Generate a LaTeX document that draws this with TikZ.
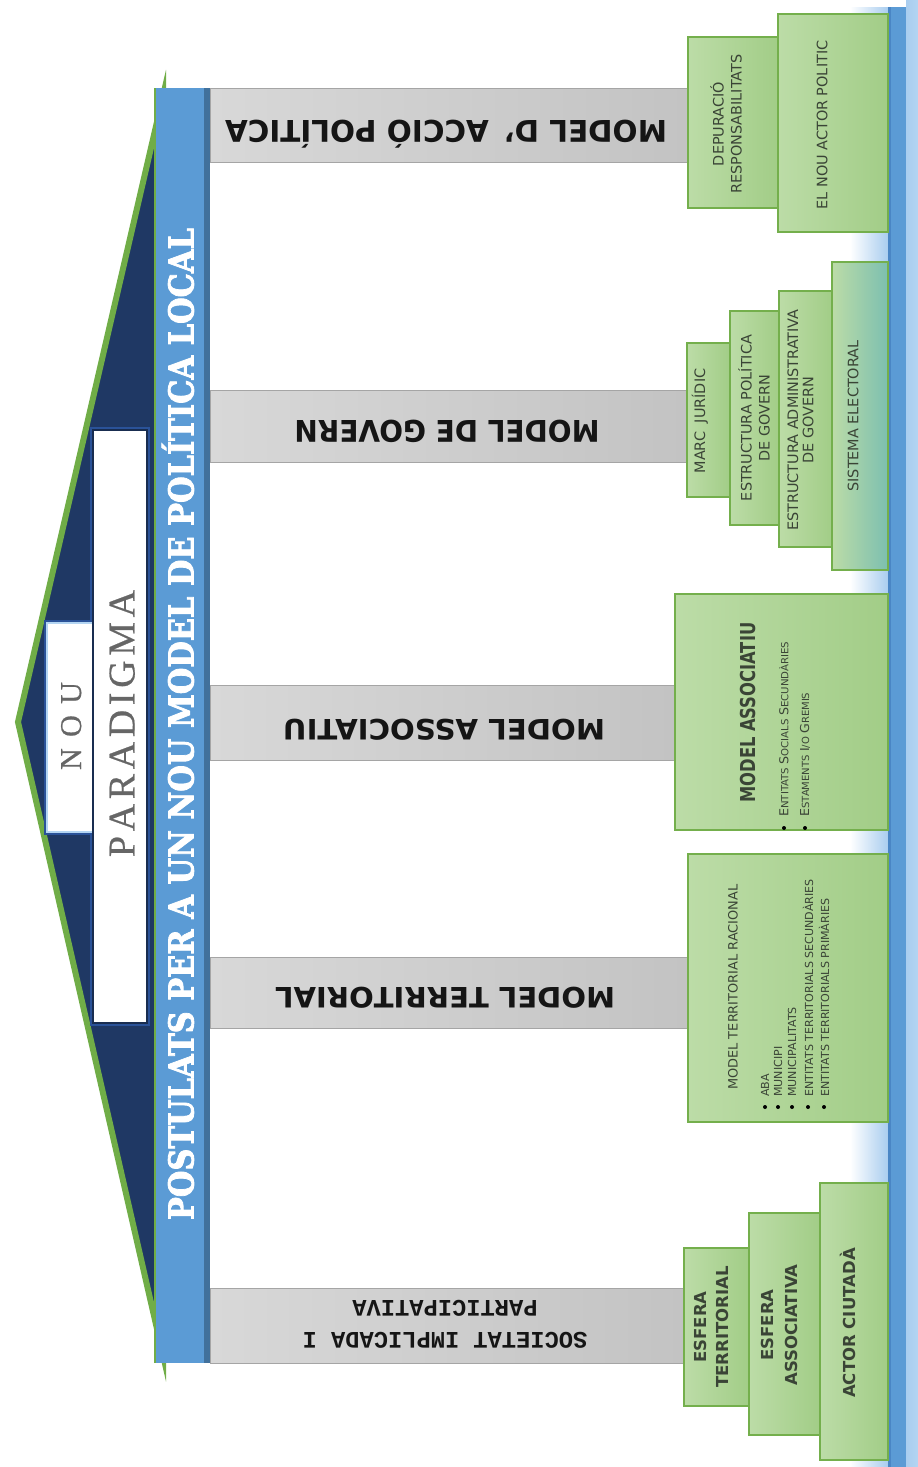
\documentclass[tikz,border=0pt]{standalone}
\usepackage{fontspec}
\usepackage{graphicx}
\setmainfont{DejaVu Sans}
\newfontfamily\slabfont{DejaVu Serif}[UprightFont={* Bold}, UprightFeatures={FakeBold=2.5}]
\newfontfamily\engravedfont{Liberation Serif}[FakeBold=0.6]
\newfontfamily\typefont{Liberation Mono}
\newfontfamily\narrowfont{DejaVu Sans Condensed}

% one drawing unit = 0.02cm
\newdimen\pxd \pxd=0.02cm
\newcommand\fitw[2]{\resizebox{#1\pxd}{\height}{#2}}
\newcommand\spreadto[2]{\makebox[#1\pxd][s]{#2}}
\newcommand\fsc[2]{{\fontsize{7}{8}\selectfont #1}#2}

\definecolor{navy}{HTML}{1F3864}
\definecolor{navyglow}{HTML}{2A5298}
\definecolor{roofgreen}{HTML}{70AD47}
\definecolor{titleblue}{HTML}{5B9BD5}
\definecolor{titleedge}{HTML}{41719C}
\definecolor{pillarL}{HTML}{D8D8D8}
\definecolor{pillarR}{HTML}{C3C3C3}
\definecolor{pillarline}{HTML}{A5A5A5}
\definecolor{pillartext}{HTML}{151515}
\definecolor{boxL}{HTML}{BCDCA7}
\definecolor{boxR}{HTML}{A2CD87}
\definecolor{boxline}{HTML}{74AF4C}
\definecolor{boxtext}{HTML}{3A4436}
\definecolor{glowblue}{HTML}{A9CDEF}
\definecolor{baseblue}{HTML}{5B9BD5}
\definecolor{baseedge}{HTML}{4A86C5}
\definecolor{paleblue}{HTML}{B4D5F2}
\definecolor{engrave}{HTML}{666666}
\definecolor{teal}{HTML}{7CBFB0}

\begin{document}
\begin{tikzpicture}[x=0.02cm,y=-0.02cm,
  roof/.style={draw=roofgreen, line width=0.12cm, fill=navy, line join=miter},
  pillarbox/.style={draw=pillarline, line width=0.5pt, left color=pillarL, right color=pillarR},
  greenbox/.style={draw=boxline, line width=0.04cm, left color=boxL, right color=boxR},
  plabel/.style={rotate=180, inner sep=0pt, text=pillartext, text depth=0pt},
  gtext/.style={rotate=90, inner sep=0pt, text=boxtext},
  bulletdot/.style={circle, fill=black, inner sep=0pt, minimum size=0.08cm},
]
\useasboundingbox (0,0) rectangle (918,1467);
\fill[white] (0,0) rectangle (918,1467);

% ---- base (right-hand bar with its glow) ----
\shade[left color=white, right color=glowblue] (850,7) rectangle (888,1467);
\fill[baseblue] (888,7) rectangle (906,1467);
\fill[baseedge] (888,7) rectangle (891,1467);
\shade[left color=glowblue, right color=paleblue] (906,0) rectangle (918,1467);

% ---- roof ----
\path[roof] (163,96) -- (18,722) -- (163,1355) -- cycle;
\draw[navyglow, line width=0.12cm] (47,623) rectangle (93,832);
\draw[navyglow, line width=0.12cm] (93,430) rectangle (147,1023);
\path[draw=paleblue, line width=0.05cm, fill=white] (47,623) rectangle (93,832);
\path[draw=navy!80!black, line width=0.03cm, fill=white] (93,430) rectangle (147,1023);

\node[rotate=90, text=engrave, inner sep=0pt, text height=11.4pt, text depth=0pt,
      font=\engravedfont\fontsize{17.2}{20}\selectfont] (nou) at (71,726)
      {\spreadto{88}{N\hfill O\hfill U}};
\node[rotate=90, text=engrave, inner sep=0pt, text height=14.2pt, text depth=0pt,
      font=\engravedfont\fontsize{21.5}{24}\selectfont] (paradigma) at (122,723.5)
      {\spreadto{267}{P\hfill A\hfill R\hfill A\hfill D\hfill I\hfill G\hfill M\hfill A}};

% ---- architrave with the title ----
\fill[titleblue] (155,88) rectangle (210,1363);
\fill[titleedge] (204,88) rectangle (210,1363);
\draw[roofgreen, line width=0.03cm] (155,88) -- (155,1363);
\node[rotate=90, text=white, inner sep=0pt, text height=14.2pt, text depth=0pt,
      font=\slabfont\fontsize{19.5}{22}\selectfont] (title) at (181,724)
      {\fitw{992}{POSTULATS PER A UN NOU MODEL DE POLÍTICA LOCAL}};

% ---- pillars ----
\path[pillarbox] (210,88) rectangle (688,162);
\path[pillarbox] (210,390) rectangle (687,462);
\path[pillarbox] (210,685) rectangle (675,760);
\path[pillarbox] (210,957) rectangle (688,1028);
\path[pillarbox] (210,1288) rectangle (684,1363);

\node[plabel, text height=12.4pt, font=\bfseries\fontsize{17}{20}\selectfont] (l1) at (446,131)
  {\fitw{442}{MODEL D'\hspace{0.5em}ACCIÓ POLÍTICA}};
\node[plabel, text height=12.4pt, font=\bfseries\fontsize{17}{20}\selectfont] (l2) at (447,431)
  {\fitw{305}{MODEL DE GOVERN}};
\node[plabel, text height=11.7pt, font=\bfseries\fontsize{16}{19}\selectfont] (l3) at (444,730)
  {\fitw{322}{MODEL ASSOCIATIU}};
\node[plabel, text height=11.7pt, font=\bfseries\fontsize{16}{19}\selectfont] (l4) at (445,998)
  {\fitw{340}{MODEL TERRITORIAL}};
\node[rotate=180, inner sep=0pt, text=pillartext, align=center,
      font=\typefont\bfseries\fontsize{13.5}{18.2}\selectfont] (l5) at (445,1324)
  {SOCIETAT IMPLICADA I\\PARTICIPATIVA};

% ---- foundation blocks: acció política ----
\path[greenbox] (778,14) rectangle (888,232);
\path[greenbox] (688,37) rectangle (778,208);
\node[gtext, align=center, font=\fontsize{8.2}{10.2}\selectfont] (t1a) at (726,124)
  {DEPURACIÓ\\RESPONSABILITATS};
\node[gtext, font=\fontsize{8.2}{10}\selectfont] (t1b) at (822,125) {EL NOU ACTOR POLITIC};

% ---- foundation blocks: govern ----
\path[greenbox, left color=boxL, middle color=boxR, right color=teal] (832,262) rectangle (888,570);
\path[greenbox] (779,291) rectangle (832,547);
\path[greenbox] (730,311) rectangle (779,525);
\path[greenbox] (687,343) rectangle (730,497);
\node[gtext, font=\fontsize{8.2}{10}\selectfont] (t2a) at (700,421) {MARC\hspace{0.6em}JURÍDIC};
\node[gtext, align=center, font=\fontsize{8.2}{10.2}\selectfont] (t2b) at (754,418)
  {ESTRUCTURA POLÍTICA\\DE GOVERN};
\node[gtext, align=center, font=\fontsize{8.2}{8.8}\selectfont] (t2c) at (800.5,420)
  {ESTRUCTURA ADMINISTRATIVA\\DE GOVERN};
\node[gtext, font=\fontsize{8.2}{10}\selectfont] (t2d) at (853,416) {SISTEMA ELECTORAL};

% ---- foundation block: associatiu ----
\path[greenbox] (675,594) rectangle (888,830);
\node[gtext, anchor=west, text height=8.4pt, text depth=0pt,
      font=\narrowfont\bfseries\fontsize{11.7}{14}\selectfont] (t3) at (748,803)
  {\fitw{180}{MODEL ASSOCIATIU}};
\node[gtext, anchor=west, font=\fontsize{5.6}{7}\selectfont] (t3a) at (784,817)
  {\fitw{175}{\fsc{E}{NTITATS} \fsc{S}{OCIALS} \fsc{S}{ECUNDÀRIES}}};
\node[gtext, anchor=west, font=\fontsize{5.6}{7}\selectfont] (t3b) at (805,817)
  {\fitw{124}{\fsc{E}{STAMENTS} \fsc{I}{/O} \fsc{G}{REMIS}}};
\node[bulletdot] (b3a) at (784,828) {};
\node[bulletdot] (b3b) at (805,828) {};

% ---- foundation block: territorial ----
\path[greenbox] (688,854) rectangle (888,1122);
\node[gtext, anchor=west, font=\fontsize{7.3}{9}\selectfont] (t4) at (733,1090)
  {\fitw{205}{MODEL TERRITORIAL RACIONAL}};
\node[gtext, anchor=west, font=\fontsize{6.3}{8}\selectfont] (t4a) at (765,1097) {ABA};
\node[gtext, anchor=west, font=\fontsize{6.3}{8}\selectfont] (t4b) at (778,1097) {MUNICIPI};
\node[gtext, anchor=west, font=\fontsize{6.3}{8}\selectfont] (t4c) at (792,1097) {MUNICIPALITATS};
\node[gtext, anchor=west, font=\fontsize{6.3}{8}\selectfont] (t4d) at (808,1097) {ENTITATS TERRITORIALS SECUNDÀRIES};
\node[gtext, anchor=west, font=\fontsize{6.3}{8}\selectfont] (t4e) at (824,1097) {ENTITATS TERRITORIALS PRIMÀRIES};
\foreach \xx/\nm in {765/a,778/b,792/c,808/d,824/e}
  \node[bulletdot] (b4\nm) at (\xx,1107) {};

% ---- foundation blocks: societat ----
\path[greenbox] (820,1183) rectangle (888,1460);
\path[greenbox] (749,1213) rectangle (820,1435);
\path[greenbox] (684,1248) rectangle (749,1406);
\node[gtext, align=center, font=\bfseries\fontsize{9.4}{12}\selectfont] (t5a) at (711.5,1327)
  {ESFERA\\TERRITORIAL};
\node[gtext, align=center, font=\bfseries\fontsize{9.4}{14.2}\selectfont] (t5b) at (779.5,1325)
  {ESFERA\\ASSOCIATIVA};
\node[gtext, font=\bfseries\fontsize{9.4}{12}\selectfont] (t5c) at (848,1323) {ACTOR CIUTADÀ};
\end{tikzpicture}
\end{document}
